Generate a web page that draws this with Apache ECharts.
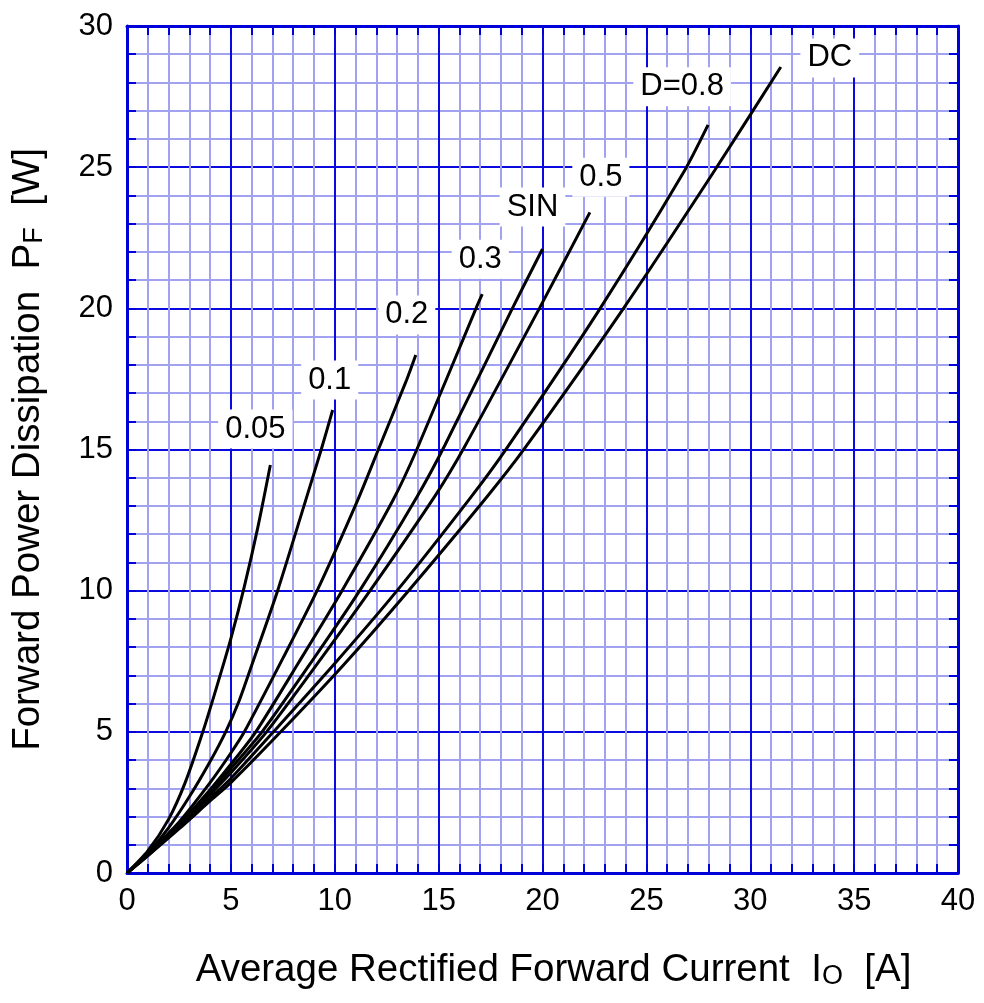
<!DOCTYPE html>
<html><head><meta charset="utf-8">
<script src="https://cdn.jsdelivr.net/npm/echarts@6/dist/echarts.min.js"></script>
<style>html,body{margin:0;padding:0;background:#fff}#c{width:984px;height:1003px}</style>
</head><body><div id="c"></div>
<script>
// ---- data (Io [A], Pf [W]) ----
const d005 = [[0,0],[1,0.78],[2,1.9],[2.8,3.2],[3.65,5],[4.3,6.55],[5,8.3],[5.65,10.15],[6.3,12.25],[6.9,14.45]];
const d01  = [[0,0],[1,0.7],[2,1.6],[3,2.7],[4,3.95],[4.75,5],[5.4,6.1],[6,7.35],[7.25,10],[8.6,13.2],[9.35,15],[9.9,16.4]];
const d02  = [[0,0],[1,0.68],[2.5,1.8],[4,3.2],[5,4.25],[5.65,5],[7.5,7.6],[9.15,10],[11.1,13.2],[12.1,15],[13.45,17.45],[13.9,18.35]];
const d03  = [[0,0],[1,0.66],[2.5,1.72],[4,2.95],[5,3.85],[6.2,5],[8.3,7.5],[10.35,10],[12.8,13.2],[13.95,15],[16.8,20],[17.1,20.5]];
const dSin = [[0,0],[1,0.65],[2.5,1.68],[4,2.85],[5,3.7],[6.5,5],[8.9,7.5],[11.2,10],[13.94,13.3],[15.3,15.15],[18.55,20],[20.0,22.1]];
const d05  = [[0,0],[1,0.64],[2.5,1.65],[4,2.78],[5,3.55],[6.72,5],[9.2,7.45],[11.7,10],[14.82,13.35],[16.25,15.1],[19.85,20],[22.28,23.4]];
const d08  = [[0,0],[1,0.62],[2.5,1.6],[4,2.65],[5,3.35],[7.05,5],[10,7.42],[13.0,10],[16.5,13.26],[18.2,14.96],[22.7,19.91],[26.77,24.79],[27.97,26.5]];
const dDC  = [[0,0],[1,0.61],[2.5,1.56],[4,2.55],[5,3.2],[7.4,5],[10.4,7.35],[13.46,9.92],[17.3,13.3],[19.2,15.1],[23.9,20.0],[28.3,24.9],[31.47,28.55]];

const curveNames = ['0.05','0.1','0.2','0.3','SIN','0.5','D=0.8','DC'];
const curveData  = [d005, d01, d02, d03, dSin, d05, d08, dDC];

const xRange = {min:0, max:40, step:5};
const yRange = {min:0, max:30, step:5};

// ---- styling (label offsets in px from curve end) ----
const labelOffsets = [[-15,-36],[-3,-30],[-9,-40],[-2,-35],[-10,-42],[11,-35],[-26,-38],[49,-9]];
const FONT = "'Liberation Sans', Arial, Helvetica, sans-serif";
const MAJOR = '#0a0ae0', MINOR = '#a2a2f2', AXIS = '#0000d8';

const chart = echarts.init(document.getElementById('c'), null, {renderer:'canvas'});

function xAx(pos, showLabel) {
  return {
    type:'value', position:pos, min:xRange.min, max:xRange.max, interval:xRange.step,
    axisLine:{show:true, onZero:false, lineStyle:{color:AXIS, width:3}},
    axisTick:{show:true, inside:true, length:9, lineStyle:{color:AXIS, width:2}},
    minorTick:{show:true, splitNumber:5, length:9, lineStyle:{color:AXIS, width:2}},
    splitLine:{show:showLabel, lineStyle:{color:MAJOR, width:2}},
    minorSplitLine:{show:showLabel, lineStyle:{color:MINOR, width:2}},
    axisLabel:{show:showLabel, fontSize:31, color:'#000', fontFamily:FONT, margin:13},
    z: 3
  };
}
function yAx(pos, showLabel) {
  return {
    type:'value', position:pos, min:yRange.min, max:yRange.max, interval:yRange.step,
    axisLine:{show:true, onZero:false, lineStyle:{color:AXIS, width:3}},
    axisTick:{show:true, inside:true, length:9, lineStyle:{color:AXIS, width:2}},
    minorTick:{show:true, splitNumber:5, length:9, lineStyle:{color:AXIS, width:2}},
    splitLine:{show:showLabel, lineStyle:{color:MAJOR, width:2}},
    minorSplitLine:{show:showLabel, lineStyle:{color:MINOR, width:2}},
    axisLabel:{show:showLabel, fontSize:31, color:'#000', fontFamily:FONT, margin:14},
    z: 3
  };
}

const xBottom = xAx('bottom', true);
xBottom.name = '{t|Average Rectified Forward Current  I}{s|O}{t|  [A]}';
xBottom.nameLocation = 'middle';
xBottom.nameGap = 78;
xBottom.nameTextStyle = {padding:[0,0,0,22], rich:{
  t:{fontSize:38.5, color:'#000', fontFamily:FONT},
  s:{fontSize:27, color:'#000', fontFamily:FONT, verticalAlign:'bottom'}
}};
const yLeft = yAx('left', true);
yLeft.name = '{t|Forward Power Dissipation  P}{s|F}{t|  [W]}';
yLeft.nameLocation = 'middle';
yLeft.nameGap = 79;
yLeft.nameRotate = 90;
yLeft.nameTextStyle = {rich:{
  t:{fontSize:38.5, color:'#000', fontFamily:FONT},
  s:{fontSize:27, color:'#000', fontFamily:FONT, verticalAlign:'bottom'}
}};

const series = curveNames.map((nm, i) => {
  const data = curveData[i];
  return {
    type:'line', name:nm, data:data, xAxisIndex:0, yAxisIndex:0,
    showSymbol:false, smooth:0.25,
    lineStyle:{color:'#000', width:3}, z:5, silent:true,
    markPoint:{
      symbol:'rect', symbolSize:1, itemStyle:{color:'rgba(0,0,0,0)'},
      label:{show:true, formatter:nm, position:'inside', offset:labelOffsets[i],
        fontSize:31, color:'#000', fontFamily:FONT, backgroundColor:'#fff', padding:[4,7]},
      data:[{coord:data[data.length-1]}]
    }
  };
});

chart.setOption({
  animation:false,
  backgroundColor:'#fff',
  grid:{left:127, right:26, top:26, bottom:130, containLabel:false},
  xAxis:[xBottom, xAx('top', false)],
  yAxis:[yLeft, yAx('right', false)],
  series:series
});
</script></body></html>
